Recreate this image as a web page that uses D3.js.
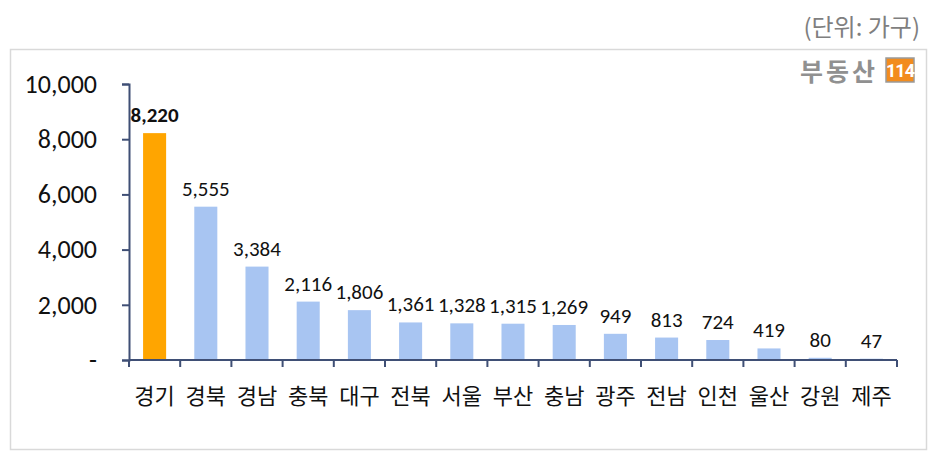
<!DOCTYPE html>
<html>
<head>
<meta charset="utf-8">
<script src="https://cdn.jsdelivr.net/npm/d3@7"></script>
<style>
  body { margin: 0; background: #fff; }
  svg { display: block; }
  .num { font-family: Carlito, Lato, sans-serif; fill: #111; }
  .kor { font-family: "Noto Sans CJK KR", sans-serif; fill: #111; }
</style>
</head>
<body>
<div id="chart"></div>
<script>
// 지역별 가구수
const regions = ["경기", "경북", "경남", "충북", "대구", "전북", "서울", "부산", "충남", "광주", "전남", "인천", "울산", "강원", "제주"];
const households = [8220, 5555, 3384, 2116, 1806, 1361, 1328, 1315, 1269, 949, 813, 724, 419, 80, 47];
const yTicks = [0, 2000, 4000, 6000, 8000, 10000];
const highlight = "경기";

const width = 933, height = 455;
const svg = d3.select("#chart").append("svg")
    .attr("width", width)
    .attr("height", height);

// frame
svg.append("rect")
    .attr("x", 10.5).attr("y", 49.5)
    .attr("width", 916).attr("height", 400)
    .attr("fill", "none")
    .attr("stroke", "#d9d9d9")
    .attr("stroke-width", 1.5);

// unit
svg.append("text")
    .attr("class", "kor")
    .attr("x", 920).attr("y", 36)
    .attr("text-anchor", "end")
    .style("font-size", "24px")
    .style("fill", "#7f7f7f")
    .text("(단위: 가구)");

// logo
svg.append("text")
    .attr("class", "kor")
    .attr("x", 878).attr("y", 81)
    .attr("text-anchor", "end")
    .style("font-size", "25px")
    .style("font-weight", "bold")
    .style("letter-spacing", "3px")
    .style("fill", "#909090")
    .text("부동산");
svg.append("rect")
    .attr("x", 886).attr("y", 58)
    .attr("width", 28).attr("height", 24)
    .attr("fill", "#f28c1e")
    .attr("stroke", "#9a9a9a")
    .attr("stroke-width", 1.5);
svg.append("text")
    .attr("x", 900).attr("y", 77)
    .attr("text-anchor", "middle")
    .style("font-family", "Roboto, sans-serif")
    .style("font-size", "18px")
    .style("font-weight", "bold")
    .style("letter-spacing", "-1px")
    .style("fill", "#fff")
    .text("114");

const x = d3.scaleBand()
    .domain(regions)
    .range([129, 897])
    .paddingInner(0.55)
    .paddingOuter(0.275);

const y = d3.scaleLinear()
    .domain([0, 10000])
    .range([360, 84]);

const axisColor = "#3f4f75";

// y axis
const yAxis = svg.append("g")
    .attr("transform", "translate(129,0)")
    .call(d3.axisLeft(y)
        .tickValues(yTicks)
        .tickSize(7)
        .tickPadding(25)
        .tickFormat(d => d === 0 ? "-" : d3.format(",")(d)));
yAxis.select(".domain").attr("stroke", axisColor).attr("stroke-width", 2);
yAxis.selectAll(".tick line").attr("stroke", axisColor).attr("stroke-width", 2);
yAxis.selectAll(".tick text")
    .attr("class", "num")
    .style("font-size", "26px")
    .attr("fill", "#111");

// bars
svg.selectAll("rect.bar")
    .data(regions)
    .join("rect")
    .attr("class", "bar")
    .attr("x", d => x(d))
    .attr("y", (d, i) => y(households[i]))
    .attr("width", x.bandwidth())
    .attr("height", (d, i) => y(0) - y(households[i]))
    .attr("fill", d => d === highlight ? "#ffa500" : "#a8c5f2");

// x axis
const step = x.step();
const bounds = regions.map(d => x(d) + x.bandwidth() / 2 - step / 2);
bounds.push(x(regions[regions.length - 1]) + x.bandwidth() / 2 + step / 2);
svg.append("line")
    .attr("x1", 129).attr("x2", bounds[bounds.length - 1])
    .attr("y1", y(0)).attr("y2", y(0))
    .attr("stroke", axisColor).attr("stroke-width", 2);
svg.selectAll("line.xtick")
    .data(bounds)
    .join("line")
    .attr("class", "xtick")
    .attr("x1", d => d).attr("x2", d => d)
    .attr("y1", y(0)).attr("y2", y(0) + 7)
    .attr("stroke", axisColor).attr("stroke-width", 2);

// category labels
svg.selectAll("text.cat")
    .data(regions)
    .join("text")
    .attr("class", "kor cat")
    .attr("x", d => x(d) + x.bandwidth() / 2)
    .attr("y", 404)
    .attr("text-anchor", "middle")
    .style("font-size", "22px")
    .text(d => d);

// value labels
svg.selectAll("text.val")
    .data(regions)
    .join("text")
    .attr("class", "num val")
    .attr("x", d => x(d) + x.bandwidth() / 2)
    .attr("y", (d, i) => y(households[i]) - 11)
    .attr("text-anchor", "middle")
    .style("font-size", "21px")
    .style("font-weight", d => d === highlight ? "bold" : "normal")
    .text((d, i) => d3.format(",")(households[i]));
</script>
</body>
</html>
